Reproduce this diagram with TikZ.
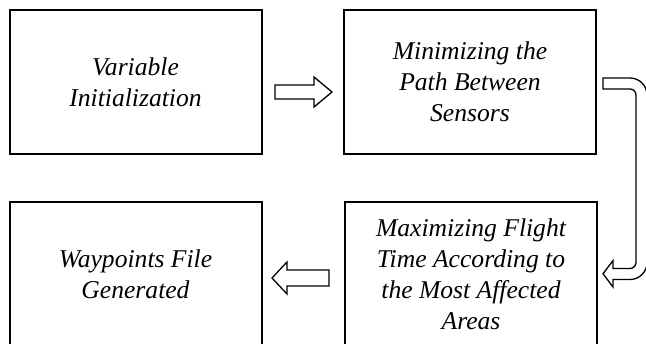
\documentclass[tikz,border=0pt]{standalone}
\usepackage{fontspec}
\setmainfont{Liberation Serif}
\usepackage{tikz}
\usetikzlibrary{calc}

\begin{document}
\begin{tikzpicture}[x=0.5pt,y=-0.5pt,
  stagebox/.style={rectangle,fill=white,draw=black,line width=1pt,minimum width=126pt,minimum height=72pt,inner sep=0pt,align=center,font=\fontsize{12.8}{15.5}\selectfont\itshape},
  fatarrow/.style={draw=black,fill=white,line width=0.65pt,line join=miter}]
\clip (0,0) rectangle (646,343);
\node[stagebox] (vi) at (135.5,82) {Variable\\Initialization};
\node[stagebox] (mp) at (470,82) {Minimizing the\\Path Between\\Sensors};
\node[stagebox] (wf) at (135.5,274) {Waypoints File\\Generated};
\node[stagebox] (maf) at (471,274) {Maximizing Flight\\Time According to\\the Most Affected\\Areas};
\draw[fatarrow] ($(vi.east)+(12.5,3)$) -- ++(39,0) -- ++(0,-8) -- ++(18,15) -- ++(-18,15) -- ++(0,-8) -- ++(-39,0) -- cycle;
\draw[fatarrow] ($(mp.east)+(6,-4)$) -- ++(27,0) arc[start angle=-90,end angle=0,radius=17] -- ++(0,167.5) arc[start angle=0,end angle=90,radius=17] -- ++(-17,0) -- ++(0,7.5) -- ++(-10,-13.25) -- ++(10,-13.25) -- ++(0,8) -- ++(17,0) arc[start angle=90,end angle=0,radius=6] -- ++(0,-167.5) arc[start angle=0,end angle=-90,radius=6] -- ++(-27,0) -- cycle;
\draw[fatarrow] ($(maf.west)+(-15,-4)$) -- ++(-42,0) -- ++(0,-8) -- ++(-15,16) -- ++(15,16) -- ++(0,-8) -- ++(42,0) -- cycle;
\end{tikzpicture}
\end{document}
